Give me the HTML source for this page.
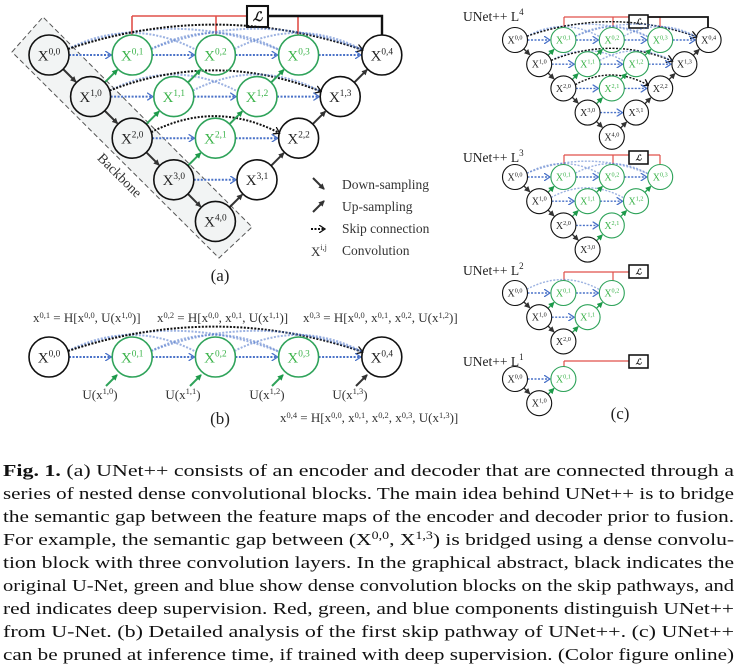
<!DOCTYPE html>
<html><head><meta charset="utf-8">
<style>
body{margin:0;background:#fff;}
#w{position:relative;width:737px;height:664px;overflow:hidden;font-family:"Liberation Serif",serif;}
svg{position:absolute;left:0;top:0;}
.t{position:absolute;white-space:nowrap;color:#333;font-size:13px;line-height:14px;}
sup{font-size:65%;vertical-align:0;position:relative;top:-0.5em;line-height:0;}
.cap{position:absolute;left:3px;width:731px;height:23px;line-height:23px;font-size:17px;color:#111;white-space:nowrap;}
.cap span{display:inline-block;transform-origin:0 50%;white-space:nowrap;}
</style></head><body><div id="w">
<svg id="s" width="737" height="664" viewBox="0 0 737 664" font-family="Liberation Serif, serif">
<defs>
<marker id="mk" markerWidth="6" markerHeight="6" refX="5" refY="3" orient="auto" markerUnits="userSpaceOnUse"><path d="M0,0 L6,3 L0,6 Z" fill="#333"/></marker>
<marker id="mg" markerWidth="6" markerHeight="6" refX="5" refY="3" orient="auto" markerUnits="userSpaceOnUse"><path d="M0,0 L6,3 L0,6 Z" fill="#1d9a4a"/></marker>
<marker id="mb" markerWidth="7" markerHeight="8" refX="6" refY="4" orient="auto" markerUnits="userSpaceOnUse"><path d="M0,0 L6,4 L0,8" fill="none" stroke="#4a72c8" stroke-width="1.3"/></marker>
<marker id="mK" markerWidth="7" markerHeight="8" refX="6" refY="4" orient="auto" markerUnits="userSpaceOnUse"><path d="M0,0 L6,4 L0,8" fill="none" stroke="#111" stroke-width="1.3"/></marker>
</defs>
<polygon points="12,52 43,17 252,227 219,258" fill="#f2f4f4" stroke="#555" stroke-width="1" stroke-dasharray="5 3"/>
<text x="120" y="180" font-size="14" fill="#333" transform="rotate(45 120 175)" text-anchor="middle">Backbone</text>
<line x1="313" y1="178" x2="324" y2="189" stroke="#333" stroke-width="2" marker-end="url(#mk)"/>
<line x1="313" y1="212" x2="324" y2="201" stroke="#333" stroke-width="2" marker-end="url(#mk)"/>
<line x1="311" y1="229" x2="325" y2="229" stroke="#111" stroke-width="2" stroke-dasharray="2 1.5" marker-end="url(#mK)"/>
<text x="311" y="256" font-size="13" fill="#333">X<tspan dy="-6" font-size="8">i,j</tspan></text>
<text x="342" y="189" font-size="13.5" fill="#333">Down-sampling</text>
<text x="342" y="211" font-size="13.5" fill="#333">Up-sampling</text>
<text x="342" y="233" font-size="13.5" fill="#333">Skip connection</text>
<text x="342" y="255" font-size="13.5" fill="#333">Convolution</text>
<text x="220" y="281" font-size="17" fill="#222" text-anchor="middle">(a)</text>
<text x="220" y="424" font-size="17" fill="#222" text-anchor="middle">(b)</text>
<text x="620" y="419" font-size="17" fill="#222" text-anchor="middle">(c)</text>
<text x="463" y="21" font-size="13.5" fill="#222">UNet++ L<tspan dy="-6" font-size="9">4</tspan></text>
<text x="463" y="162" font-size="13.5" fill="#222">UNet++ L<tspan dy="-6" font-size="9">3</tspan></text>
<text x="463" y="275" font-size="13.5" fill="#222">UNet++ L<tspan dy="-6" font-size="9">2</tspan></text>
<text x="463" y="366" font-size="13.5" fill="#222">UNet++ L<tspan dy="-6" font-size="9">1</tspan></text>
<text x="100" y="399" font-size="13" fill="#333" text-anchor="middle">U(x<tspan dy="-5" font-size="8.5">1,0</tspan><tspan dy="5">)</tspan></text>
<text x="183" y="399" font-size="13" fill="#333" text-anchor="middle">U(x<tspan dy="-5" font-size="8.5">1,1</tspan><tspan dy="5">)</tspan></text>
<text x="267" y="399" font-size="13" fill="#333" text-anchor="middle">U(x<tspan dy="-5" font-size="8.5">1,2</tspan><tspan dy="5">)</tspan></text>
<text x="350" y="399" font-size="13" fill="#333" text-anchor="middle">U(x<tspan dy="-5" font-size="8.5">1,3</tspan><tspan dy="5">)</tspan></text>
</svg>
<div class="t" style="left:33px;top:311px;">x<sup>0,1</sup> = H[x<sup>0,0</sup>, U(x<sup>1,0</sup>)]</div>
<div class="t" style="left:157px;top:311px;">x<sup>0,2</sup> = H[x<sup>0,0</sup>, x<sup>0,1</sup>, U(x<sup>1,1</sup>)]</div>
<div class="t" style="left:303px;top:311px;">x<sup>0,3</sup> = H[x<sup>0,0</sup>, x<sup>0,1</sup>, x<sup>0,2</sup>, U(x<sup>1,2</sup>)]</div>
<div class="t" style="left:280px;top:411px;">x<sup>0,4</sup> = H[x<sup>0,0</sup>, x<sup>0,1</sup>, x<sup>0,2</sup>, x<sup>0,3</sup>, U(x<sup>1,3</sup>)]</div>

<div class="cap" style="top:459px;"><span><b>Fig. 1.</b> (a) UNet++ consists of an encoder and decoder that are connected through a</span></div>
<div class="cap" style="top:482px;"><span>series of nested dense convolutional blocks. The main idea behind UNet++ is to bridge</span></div>
<div class="cap" style="top:505px;"><span>the semantic gap between the feature maps of the encoder and decoder prior to fusion.</span></div>
<div class="cap" style="top:528px;"><span>For example, the semantic gap between (X<sup>0,0</sup>, X<sup>1,3</sup>) is bridged using a dense convolu-</span></div>
<div class="cap" style="top:551px;"><span>tion block with three convolution layers. In the graphical abstract, black indicates the</span></div>
<div class="cap" style="top:574px;"><span>original U-Net, green and blue show dense convolution blocks on the skip pathways, and</span></div>
<div class="cap" style="top:597px;"><span>red indicates deep supervision. Red, green, and blue components distinguish UNet++</span></div>
<div class="cap" style="top:620px;"><span>from U-Net. (b) Detailed analysis of the first skip pathway of UNet++. (c) UNet++</span></div>
<div class="cap" style="top:643px;"><span>can be pruned at inference time, if trained with deep supervision. (Color figure online)</span></div>
</div>
<script>
document.querySelectorAll('.cap span').forEach(s=>{const w=s.getBoundingClientRect().width;if(w>0)s.style.transform='scaleX('+(731/w)+')';});
const NS='http://www.w3.org/2000/svg';const svg=document.getElementById('s');
function el(t,a){const e=document.createElementNS(NS,t);for(const k in a)e.setAttribute(k,a[k]);svg.appendChild(e);return e;}
const GREEN='#2fa35a',GT='#3bb34a',BLUE='#4a72c8',RED='#e0504a';
function net(ox,oy,d,r,L,fs,rows,sw){
  const P=(i,j)=>[ox+d*(i+2*j),oy+d*i];
  const green=(i,j)=>j>0&&i+j<4;
  for(const i of rows){const n=L-i;for(let j=1;j<=n;j++){const [xj,y]=P(i,j);
    for(let k=0;k<=j-2;k++){const [xk]=P(i,k);const span=xj-xk;const h=r*0.4+span*0.05;
      const blk=(k==0&&!green(i,j));
      el('path',{d:`M${xk+r*0.95},${y-r*0.3} Q${(xk+xj)/2},${y-r*0.3-h*2} ${xj-r*0.95},${y-r*0.25}`,fill:'none',stroke:blk?'#111':BLUE,'stroke-width':sw,'stroke-dasharray':'2 1.5',opacity:blk?1:0.55,'marker-end':blk?'url(#mK)':''});}
    const [xp]=P(i,j-1);
    el('line',{x1:xp+r,y1:y,x2:xj-r-1,y2:y,stroke:BLUE,'stroke-width':sw,'stroke-dasharray':'2 1.5','marker-end':'url(#mb)'});
  }}
  const u=Math.SQRT1_2;
  for(const i of rows){ if(i+1<=L&&rows.includes(i+1)){const [x1,y1]=P(i,0),[x2,y2]=P(i+1,0);
    el('line',{x1:x1+r*u,y1:y1+r*u,x2:x2-(r+1)*u,y2:y2-(r+1)*u,stroke:'#333','stroke-width':sw,'marker-end':'url(#mk)'});}
    for(let j=1;i+j<=L;j++){ if(!rows.includes(i+1))continue; const [x1,y1]=P(i+1,j-1),[x2,y2]=P(i,j);const g=green(i,j);
      el('line',{x1:x1+r*u,y1:y1-r*u,x2:x2-(r+1)*u,y2:y2+(r+1)*u,stroke:g?GREEN:'#333','stroke-width':sw,'marker-end':g?'url(#mg)':'url(#mk)'});}
  }
  for(const i of rows)for(let j=0;i+j<=L;j++){const [x,y]=P(i,j);const g=green(i,j);
    el('circle',{cx:x,cy:y,r:r,fill:'none',stroke:g?GREEN:'#111','stroke-width':sw*0.8});
    const t=el('text',{x:x,y:y+fs*0.35,'font-size':fs,fill:g?GT:'#222','text-anchor':'middle'});t.textContent='X';
    const s=document.createElementNS(NS,'tspan');s.setAttribute('dy',-fs*0.4);s.setAttribute('font-size',fs*0.62);s.textContent=i+','+j;t.appendChild(s);}
}
function loss(xs,blackX,ly,bx,by,bw,bh,top,sw){
  const maxR=Math.max(...xs,bx);
  el('line',{x1:xs[0],y1:ly,x2:maxR,y2:ly,stroke:RED,'stroke-width':sw});
  for(const x of xs)el('line',{x1:x,y1:ly,x2:x,y2:top,stroke:RED,'stroke-width':sw});
  if(blackX){el('polyline',{points:`${bx+bw},${ly} ${blackX},${ly} ${blackX},${top}`,fill:'none',stroke:'#111','stroke-width':sw*1.5});}
  el('rect',{x:bx,y:by,width:bw,height:bh,fill:'#fff',stroke:'#111','stroke-width':sw*1.3});
  const t=el('text',{x:bx+bw/2,y:by+bh*0.72,'font-size':bh*0.62,'font-style':'italic','font-weight':'bold',fill:'#111','text-anchor':'middle'});t.textContent='ℒ';
}
loss([132,216,298],382,16,247,6,21,21,35,1.6);
net(49,55,41.6,20,4,15,[0,1,2,3,4],2);
net(49,357,41.6,20,4,15,[0],2);
[[132,true],[216,true],[298,true],[382,false]].forEach(([cx,g])=>{const cy=357;
 el('line',{x1:cx-26,y1:cy+29,x2:cx-15,y2:cy+18,stroke:g?GREEN:'#333','stroke-width':2,'marker-end':g?'url(#mg)':'url(#mk)'});});
loss([564,613,660],708,17,629,15,19,13,27.5,1.2);
net(515,40,24.2,12.5,4,10,[0,1,2,3,4],1.4);
loss([564,613,660],null,155,629,151,19,13,164.5,1.2);
net(515,177,24.2,12.5,3,10,[0,1,2,3],1.4);
loss([564,613],null,272,629,265,19,13,280.5,1.2);
net(515,293,24.2,12.5,2,10,[0,1,2],1.4);
loss([564],null,361,629,355,19,13,366.5,1.2);
net(515,379,24.2,12.5,1,10,[0,1],1.4);
</script>
</body></html>
